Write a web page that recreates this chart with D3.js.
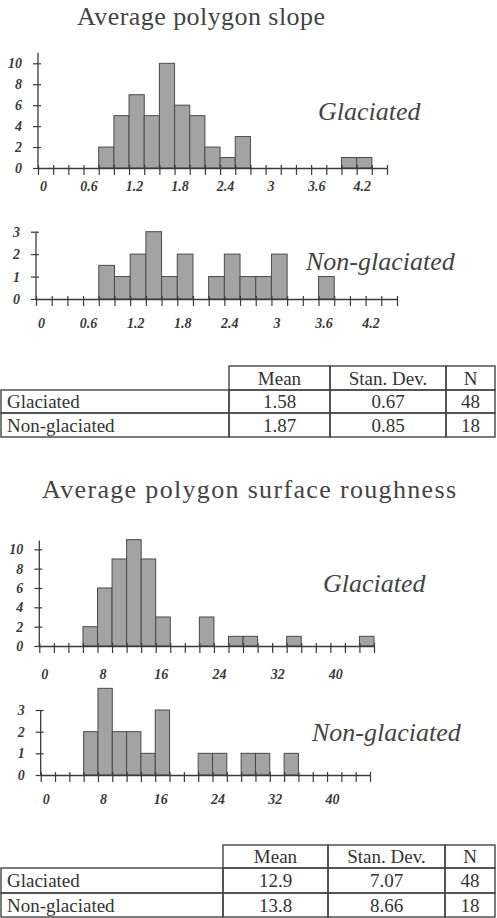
<!DOCTYPE html>
<html>
<head>
<meta charset="utf-8">
<script src="https://cdn.jsdelivr.net/npm/d3@7"></script>
<style>
  body { margin: 0; background: #fff; }
  svg { display: block; }
  text { font-family: "Liberation Serif", "Times New Roman", Times, "DejaVu Serif", serif; }
</style>
</head>
<body>
<svg id="chart" width="497" height="918"></svg>
<script>
// histogram data: lower edge of each bin and its count
const slopeBinWidth = 0.2;
const slopeGlacLo = [0.8, 1.0, 1.2, 1.4, 1.6, 1.8, 2.0, 2.2, 2.4, 2.6, 4.0, 4.2];
const slopeGlacN = [2, 5, 7, 5, 10, 6, 5, 2, 1, 3, 1, 1];
const slopeNonLo = [0.8, 1.0, 1.2, 1.4, 1.6, 1.8, 2.2, 2.4, 2.6, 2.8, 3.0, 3.6];
const slopeNonN = [1.5, 1, 2, 3, 1, 2, 1, 2, 1, 1, 2, 1];
const slopeTicks = [0, 0.6, 1.2, 1.8, 2.4, 3, 3.6, 4.2];

const roughBinWidth = 2;
const roughGlacLo = [6, 8, 10, 12, 14, 16, 22, 26, 28, 34, 44];
const roughGlacN = [2, 6, 9, 11, 9, 3, 3, 1, 1, 1, 1];
const roughNonLo = [6, 8, 10, 12, 14, 16, 22, 24, 28, 30, 34];
const roughNonN = [2, 4, 2, 2, 1, 3, 1, 1, 1, 1, 1];
const roughTicks = [0, 8, 16, 24, 32, 40];

const yTicksGlac = [0, 2, 4, 6, 8, 10];
const yTicksNon = [0, 1, 2, 3];

// summary tables
const tableHead = ["", "Mean", "Stan. Dev.", "N"];
const groups = ["Glaciated", "Non-glaciated"];
const slopeMean = ["1.58", "1.87"];
const slopeSD = ["0.67", "0.85"];
const slopeN = ["48", "18"];
const roughMean = ["12.9", "13.8"];
const roughSD = ["7.07", "8.66"];
const roughN = ["48", "18"];

const svg = d3.select("#chart");
const ink = "#3a3a3a";
const serif = "'Liberation Serif', 'Times New Roman', Times, 'DejaVu Serif', serif";

function title(txt, x, y, len){
    svg.append("text")
        .attr("x", x).attr("y", y)
        .attr("textLength", len)
        .attr("lengthAdjust", "spacing")
        .style("font-family", serif)
        .style("font-size", "26px")
        .attr("fill", "#444")
        .text(txt);
}

function histogram(cfg){
    const x = d3.scaleLinear().domain([0, cfg.xMax]).range([cfg.left, cfg.right]);
    const y = d3.scaleLinear().domain([0, cfg.yRef]).range([cfg.base, cfg.yRefPx]);
    const g = svg.append("g");

    // bars
    g.selectAll(".bar")
        .data(cfg.lo.map((d, i) => ({lo: d, n: cfg.n[i]})))
        .enter().append("rect")
        .attr("class", "bar")
        .attr("x", d => x(d.lo))
        .attr("y", d => y(d.n))
        .attr("width", d => x(d.lo + cfg.bw) - x(d.lo))
        .attr("height", d => y(0) - y(d.n))
        .attr("fill", "#a3a3a3")
        .attr("stroke", "#4a4a4a")
        .attr("stroke-width", 1);

    // x axis: every bin edge gets a tick
    const edges = d3.range(0, Math.round(cfg.xMax / cfg.bw) + 1).map(i => i * cfg.bw);
    const xa = g.append("g")
        .attr("transform", `translate(0,${cfg.base})`)
        .call(d3.axisBottom(x).tickValues(edges).tickFormat("").tickSizeInner(7).tickSizeOuter(0));
    xa.select(".domain").attr("stroke", ink).attr("stroke-width", 1.3);
    xa.selectAll(".tick line").attr("y1", -3).attr("stroke", ink).attr("stroke-width", 1.2);

    // x labels, set a little right of their tick as in the original
    const xl = g.append("g")
        .attr("transform", `translate(0,${cfg.base + cfg.labelGap})`)
        .call(d3.axisBottom(x).tickValues(cfg.xLabels).tickSize(0).tickFormat(d3.format("")));
    xl.select(".domain").remove();
    xl.selectAll("text")
        .attr("dx", 5)
        .attr("fill", ink)
        .style("font-family", serif)
        .style("font-size", "14px")
        .style("font-weight", "bold")
        .style("font-style", "italic");

    // y axis
    const ya = g.append("g")
        .attr("transform", `translate(${cfg.left},0)`)
        .call(d3.axisLeft(y).tickValues(cfg.yTicks).tickFormat(d3.format("")).tickSizeInner(5).tickSizeOuter(0).tickPadding(11));
    ya.select(".domain").attr("d", `M0,${y(0)}V${y(cfg.yTop)}`).attr("stroke", ink).attr("stroke-width", 1.3);
    ya.selectAll(".tick line").attr("x2", -5).attr("x1", 3).attr("stroke", ink).attr("stroke-width", 1.2);
    ya.selectAll("text")
        .attr("fill", ink)
        .style("font-family", serif)
        .style("font-size", "14px")
        .style("font-weight", "bold")
        .style("font-style", "italic");

    // group name
    svg.append("text")
        .attr("x", cfg.nameX).attr("y", cfg.nameY)
        .style("font-family", serif)
        .style("font-size", "26px")
        .style("font-style", "italic")
        .attr("fill", "#444")
        .text(cfg.name);
}

function table(colX, rowY, mean, sd, n){
    const g = svg.append("g");
    const rows = [tableHead].concat(groups.map((gr, i) => [gr, mean[i], sd[i], n[i]]));
    rows.forEach((row, r) => {
        row.forEach((cell, c) => {
            if(r === 0 && c === 0) return;
            g.append("rect")
                .attr("x", colX[c]).attr("y", rowY[r])
                .attr("width", colX[c + 1] - colX[c])
                .attr("height", rowY[r + 1] - rowY[r])
                .attr("fill", "none")
                .attr("stroke", "#444")
                .attr("stroke-width", 1.4);
            g.append("text")
                .attr("x", c === 0 ? colX[c] + 6 : (colX[c] + colX[c + 1]) / 2)
                .attr("y", (rowY[r] + rowY[r + 1]) / 2)
                .attr("dy", "0.35em")
                .attr("text-anchor", c === 0 ? "start" : "middle")
                .style("font-family", serif)
                .style("font-size", "19px")
                .attr("fill", "#333")
                .text(cell);
        });
    });
}

title("Average polygon slope", 77, 25, 248);

histogram({lo: slopeGlacLo, n: slopeGlacN, bw: slopeBinWidth, xMax: 4.6, left: 38, right: 387,
    base: 168, yRef: 10, yRefPx: 63.3, yTop: 11, yTicks: yTicksGlac, xLabels: slopeTicks,
    labelGap: 10, name: "Glaciated", nameX: 318, nameY: 120});

histogram({lo: slopeNonLo, n: slopeNonN, bw: slopeBinWidth, xMax: 4.6, left: 36, right: 397,
    base: 299, yRef: 3, yRefPx: 231.7, yTop: 3, yTicks: yTicksNon, xLabels: slopeTicks,
    labelGap: 16, name: "Non-glaciated", nameX: 306, nameY: 270});

table([1, 229, 330, 446, 495], [366, 390, 413, 437], slopeMean, slopeSD, slopeN);

title("Average polygon surface roughness", 42, 498, 414);

histogram({lo: roughGlacLo, n: roughGlacN, bw: roughBinWidth, xMax: 46, left: 39.3, right: 374,
    base: 646, yRef: 10, yRefPx: 549.3, yTop: 10.9, yTicks: yTicksGlac, xLabels: roughTicks,
    labelGap: 20, name: "Glaciated", nameX: 323, nameY: 592});

histogram({lo: roughNonLo, n: roughNonN, bw: roughBinWidth, xMax: 46, left: 40.7, right: 370,
    base: 775, yRef: 3, yRefPx: 710, yTop: 3, yTicks: yTicksNon, xLabels: roughTicks,
    labelGap: 16, name: "Non-glaciated", nameX: 312, nameY: 741});

table([1, 223, 328, 445, 495], [845, 868, 893, 917], roughMean, roughSD, roughN);
</script>
</body>
</html>
